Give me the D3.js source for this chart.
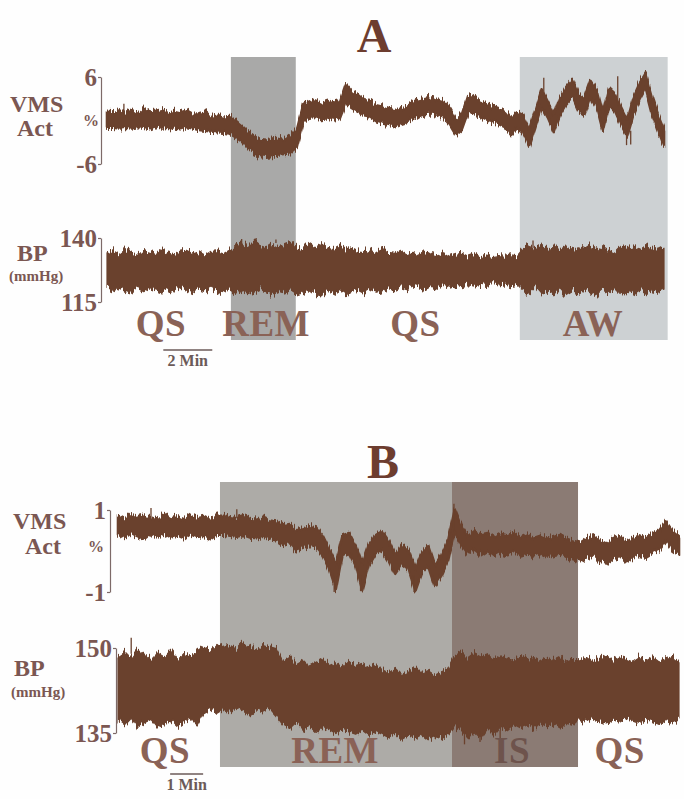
<!DOCTYPE html>
<html><head><meta charset="utf-8">
<script src="https://cdn.jsdelivr.net/npm/d3@7/dist/d3.min.js"></script>
<style>
body{margin:0;background:#fff}
svg{display:block}
text{font-family:"Liberation Serif","Times New Roman",serif;font-weight:bold}
</style>
</head><body>
<svg id="chart" width="684" height="799"></svg>
<script>
// ---------- DATA ----------
const dtA = 0.25;   // minutes between samples, panel A
const dtB = 0.2;    // minutes between samples, panel B

// Panel A: VMS activity (%) band, upper and lower envelope
const vmsA_hi = [1.2,1.1,1.4,1.0,1.5,0.9,1.6,1.1,1.2,1.4,
  1.0,1.3,1.1,1.4,0.9,1.0,1.2,0.6,0.8,0.5,
  0.6,0.0,-0.7,-1.5,-2.1,-2.7,-2.8,-2.5,-2.4,-2.6,
  -2.0,-1.2,2.1,2.6,2.9,2.4,2.7,2.3,2.5,5.0,
  4.0,3.5,2.8,2.7,2.1,1.9,1.6,1.4,1.8,2.0,
  2.4,2.9,3.1,3.3,2.9,2.6,1.7,0.2,0.9,3.5,
  3.1,2.7,2.2,2.0,1.7,1.3,0.3,1.0,0.6,-1.2,
  1.5,4.3,2.6,0.7,3.2,4.6,5.6,3.7,3.2,5.6,
  4.3,1.0,4.5,3.7,1.8,0.1,3.2,5.1,6.5,3.4,
  0.9,-1.2];
const vmsA_lo = [-1.0,-1.0,-1.1,-1.0,-1.1,-0.9,-1.0,-1.2,-0.9,-1.1,
  -1.0,-1.1,-1.2,-0.9,-1.1,-1.3,-1.4,-1.5,-1.6,-1.7,
  -1.8,-2.3,-2.9,-3.8,-4.5,-4.9,-5.0,-4.9,-4.7,-4.6,
  -4.5,-3.8,-0.4,0.4,0.5,0.2,0.3,0.0,0.2,2.4,
  1.7,1.2,0.6,0.4,-0.1,-0.4,-0.6,-0.8,-0.5,-0.2,
  0.1,0.6,0.9,1.0,0.8,0.4,-0.6,-2.0,-1.3,1.1,
  0.9,0.5,0.0,-0.2,-0.5,-0.9,-2.0,-1.2,-1.7,-3.5,
  -0.8,1.9,0.3,-1.6,0.8,2.3,3.3,1.4,0.8,3.3,
  1.9,-1.4,2.2,1.3,-0.6,-2.2,0.8,2.7,4.3,1.0,
  -1.4,-3.6];
// thin spikes: [minute, from, to]
const vmsA_spikes = [[0.69,1.0,2.3],[17.84,3.0,5.9],[20.86,2.5,6.1],[21.22,-1.5,-3.4],[21.39,-1.4,-3.3]];

// Panel A: blood pressure (mmHg) band
const bpA_hi = [134.2,135.0,133.6,135.4,134.0,133.2,135.1,134.4,133.5,135.3,
  134.1,133.4,134.9,135.2,133.7,134.6,133.3,134.8,135.0,134.2,135.6,
  137.2,138.1,136.5,138.8,137.0,136.2,137.9,136.6,137.4,138.3,136.1,
  135.4,137.5,136.2,137.8,136.0,135.5,136.8,135.2,136.3,135.0,134.6,135.7,134.3,135.5,
  134.0,133.6,134.8,133.4,134.4,133.2,134.9,133.5,133.0,134.2,132.8,133.6,134.0,132.9,133.8,132.6,133.3,132.7,133.1,132.8,133.4,133.0,
  135.8,137.0,136.2,137.6,135.4,136.9,135.8,137.3,136.0,135.2,137.1,136.3,134.8,136.6,135.5,134.4,136.8,135.9,136.5,135.3,137.0,136.1,135.6,136.8];
const bpA_lo = [120.3,119.2,120.8,119.5,118.8,120.4,119.0,120.6,119.7,118.9,
  120.2,119.3,120.9,119.6,118.7,120.1,119.4,120.5,119.1,118.6,119.8,
  118.4,119.6,117.9,118.8,119.9,118.2,117.6,119.1,118.5,119.4,117.8,
  118.6,119.8,118.1,117.4,119.2,118.0,119.5,117.9,118.7,119.6,118.3,119.9,118.8,119.4,
  120.6,119.8,121.0,120.2,121.3,120.5,119.9,121.1,120.4,121.5,120.8,121.6,121.0,121.8,121.2,122.0,121.5,122.3,121.7,122.1,121.4,121.9,
  119.5,118.4,120.6,117.8,119.3,118.6,120.2,117.5,119.0,118.2,120.1,118.9,117.6,119.7,118.3,120.4,117.9,119.2,118.5,120.0,118.1,119.4,118.8,119.6];
const bpA_spikes = [[5.5,137,139.6],[17.4,136,139.0],[6.9,138,139.4]];

// Panel B: VMS activity (%) band
const vmsB_hi = [0.86,0.78,0.92,0.80,0.84,0.82,0.76,0.90,0.79,0.85,
  0.77,0.88,0.80,0.83,0.75,0.88,
  0.88,0.82,0.80,0.85,0.78,0.76,0.81,0.74,0.72,
  0.62,0.66,0.50,0.55,0.60,0.58,0.38,0.05,-0.30,0.38,0.44,0.14,-0.32,0.15,0.38,0.48,0.25,-0.10,0.14,0.02,-0.44,-0.03,0.14,-0.34,-0.10,0.26,
  1.02,0.62,0.36,0.48,0.40,0.44,0.34,0.42,0.38,0.45,0.33,0.40,0.32,0.37,0.30,0.34,0.39,0.29,0.25,0.20,0.30,0.38,0.26,0.18,0.31,0.36,0.23,0.30,0.38,0.33,0.42,0.50,0.72,0.50,0.36];
const vmsB_lo = [0.40,0.32,0.44,0.36,0.30,0.42,0.35,0.43,0.33,0.38,
  0.31,0.41,0.34,0.37,0.29,0.40,
  0.40,0.37,0.35,0.39,0.33,0.31,0.35,0.29,0.26,
  0.15,0.20,0.02,0.08,0.12,0.10,-0.10,-0.45,-0.95,-0.10,-0.02,-0.35,-0.98,-0.36,-0.08,0.02,-0.24,-0.58,-0.34,-0.46,-0.98,-0.52,-0.35,-0.85,-0.60,-0.24,
  0.45,0.14,-0.08,0.04,-0.10,0.00,-0.12,-0.03,-0.08,0.01,-0.11,-0.06,-0.13,-0.07,-0.16,-0.10,-0.06,-0.15,-0.20,-0.25,-0.18,-0.10,-0.24,-0.28,-0.17,-0.12,-0.25,-0.16,-0.09,-0.14,-0.04,0.04,0.26,0.03,-0.08];
const vmsB_spikes = [[1.0,0.8,1.05],[3.6,0.8,1.02],[6.55,-0.6,-1.0],[7.35,-0.6,-0.98],[8.97,-0.6,-1.0],[10.18,0.5,1.15]];

// Panel B: blood pressure (mmHg) band
const bpB_hi = [148.6,149.4,148.2,149.8,148.9,147.9,149.1,148.4,149.6,148.0,149.2,148.7,149.5,
  150.3,149.6,150.8,149.9,150.5,149.7,150.9,150.1,149.8,150.6,150.2,149.9,
  147.6,148.3,147.2,147.9,146.8,147.5,148.1,146.9,147.4,146.6,147.8,146.9,147.3,146.5,147.1,
  146.2,145.6,146.4,145.3,145.9,146.6,145.5,146.0,145.2,145.8,146.3,
  148.6,149.3,148.1,149.0,148.4,148.8,147.9,148.6,148.2,147.7,148.5,147.9,148.3,147.6,148.2,147.8,148.4,147.5,148.0,
  147.9,148.5,147.6,148.2,148.7,147.8,148.4,148.0,147.5,148.3,147.9,148.6,147.7,148.1,148.5,147.6];
const bpB_lo = [137.1,136.3,137.6,136.0,136.8,137.4,135.9,136.6,137.2,136.1,136.9,137.5,136.4,
  138.6,139.2,138.3,139.0,138.5,139.4,138.8,138.2,139.1,138.7,139.3,138.0,
  136.4,135.8,136.9,135.5,136.2,135.1,136.0,135.6,134.9,135.7,135.2,134.8,135.5,134.6,135.3,
  134.8,134.2,135.0,133.9,134.5,134.1,134.7,133.8,134.4,134.0,134.6,
  136.2,135.5,134.1,135.2,134.0,135.8,134.6,136.0,135.4,136.5,135.9,136.4,135.7,136.8,136.1,136.6,135.9,136.7,136.3,
  137.4,136.8,137.5,137.0,136.6,137.3,136.9,137.6,137.1,136.7,137.4,137.0,136.5,137.2,136.8,137.3];
const bpB_spikes = [[0.4,149,151.8],[10.5,135.5,133.0],[10.97,135.5,133.4],[11.58,135.5,134.0]];

// sleep-state periods [state, start min, end min] and label positions [state, min]
const periodsA = [["REM",5.06,7.71],["AW",16.86,22.9]];
const stagesA  = [["QS",2.2],["REM",6.5],["QS",12.6],["AW",19.85]];
const periodsB = [["REM",3.09,10.12],["IS",10.12,13.94]];
const stagesB  = [["QS",1.42],["REM",6.58],["IS",11.94],["QS",15.2]];

// axis tick labels
const vmsTicksA = [-6,6], bpTicksA = [115,140];
const vmsTicksB = [-1,1], bpTicksB = [135,150];
// time scale bars [start min, length min, label]
const scaleBarA = [2.3,2,"2 Min"];
const scaleBarB = [1.58,1,"1 Min"];

// ---------- STYLE ----------
const C = {trace:"#6a412d", stage:"#8a6256", axisText:"#7b5752", title:"#6d3d2f", axis:"#7d6a68", isText:"#6e534c"};
const periodFillA = {REM:"#a9a9a8", AW:"#cdd1d3"};
const periodFillB = {REM:"#adaba7", IS:"#8b7b74"};

const svg = d3.select("#chart");
svg.append("rect").attr("width",684).attr("height",799).attr("fill","#fefefe");

// texture filter: roughens the recorded-trace edges (visual style only)
const defs = svg.append("defs");
function roughFilter(id, fx, scale){
  const f = defs.append("filter").attr("id",id).attr("filterUnits","userSpaceOnUse")
    .attr("x",0).attr("y",0).attr("width",684).attr("height",799)
    .attr("color-interpolation-filters","sRGB");
  f.append("feTurbulence").attr("type","fractalNoise").attr("baseFrequency",`${fx} 0.015`)
    .attr("numOctaves",2).attr("seed",4).attr("result","t");
  f.append("feColorMatrix").attr("in","t").attr("type","matrix")
    .attr("values","0 0 0 0 0.5  0 1 0 0 0  0 0 0 0 0  0 0 0 0 1").attr("result","m");
  f.append("feDisplacementMap").attr("in","SourceGraphic").attr("in2","m")
    .attr("scale",scale).attr("xChannelSelector","R").attr("yChannelSelector","G");
}
roughFilter("roughV",0.7,12);
roughFilter("roughB",0.55,14);

function drawPanel(p){
  const n = p.vmsHi.length;
  const x = d3.scaleLinear().domain([0,(n-1)*p.dt]).range(p.xRange);
  const yV = d3.scaleLinear().domain([p.vmsTicks[0],p.vmsTicks[1]]).range(p.vmsY);
  const yB = d3.scaleLinear().domain([p.bpTicks[0],p.bpTicks[1]]).range(p.bpY);

  // shaded periods
  svg.append("g").selectAll("rect").data(p.periods).join("rect")
    .attr("x",d=>x(d[1])).attr("width",d=>x(d[2])-x(d[1]))
    .attr("y",p.shadeY[0]).attr("height",p.shadeY[1]-p.shadeY[0])
    .attr("fill",d=>p.fills[d[0]]);

  // title
  svg.append("text").attr("x",p.title[1]).attr("y",p.title[2])
    .attr("text-anchor","middle").attr("font-size",48).attr("fill",C.title).text(p.title[0]);

  // trace bands
  function band(hi,lo,y,filt,sw){
    const data = hi.map((h,i)=>({t:i*p.dt,h:h,l:lo[i]}));
    const area = d3.area().x(d=>x(d.t)).y0(d=>y(d.l)).y1(d=>y(d.h));
    svg.append("g").attr("filter",`url(#${filt})`).append("path").datum(data).attr("d",area)
      .attr("fill",C.trace).attr("stroke",C.trace).attr("stroke-width",sw).attr("stroke-linejoin","round");
  }
  band(p.vmsHi,p.vmsLo,yV,"roughV",2.6);
  band(p.bpHi,p.bpLo,yB,"roughB",1.2);
  function spikes(list,y){
    svg.append("g").selectAll("line").data(list).join("line")
      .attr("x1",d=>x(d[0])).attr("x2",d=>x(d[0]))
      .attr("y1",d=>y(d[1])).attr("y2",d=>y(d[2]))
      .attr("stroke",C.trace).attr("stroke-width",1.3);
  }
  spikes(p.vmsSpikes,yV);
  spikes(p.bpSpikes,yB);

  // axes (bracket style)
  function axis(y,ticks,ax,fs){
    const g = svg.append("g").attr("transform",`translate(${ax},0)`)
      .call(d3.axisLeft(y).tickValues(ticks).tickSizeInner(3).tickSizeOuter(0).tickPadding(1).tickFormat(d=>String(d)));
    g.select(".domain").attr("stroke",C.axis).attr("stroke-width",1.2);
    g.selectAll(".tick line").attr("stroke",C.axis).attr("stroke-width",1.2);
    g.selectAll(".tick text").attr("font-size",fs).attr("fill",C.axisText)
      .attr("font-family","'Liberation Serif',serif").attr("font-weight","bold");
  }
  axis(yV,p.vmsTicks,p.vmsAxisX,p.tickFs);
  axis(yB,p.bpTicks,p.bpAxisX,p.tickFs);

  // axis names
  p.names.forEach(d=>svg.append("text").attr("x",d[1]).attr("y",d[2])
    .attr("font-size",d[3]).attr("fill",C.axisText).text(d[0]));

  // stage labels
  svg.append("g").selectAll("text").data(p.stages).join("text")
    .attr("x",d=>x(d[1])).attr("y",p.stageY).attr("text-anchor","middle")
    .attr("font-size",37).attr("letter-spacing",0.5)
    .attr("fill",d=>d[0]==="IS"?C.isText:C.stage).text(d=>d[0]);

  // scale bar
  const sb = p.scaleBar;
  svg.append("line").attr("x1",x(sb[0])).attr("x2",x(sb[0]+sb[1]))
    .attr("y1",p.sbY).attr("y2",p.sbY).attr("stroke","#6b5a58").attr("stroke-width",1.5);
  svg.append("text").attr("x",(x(sb[0])+x(sb[0]+sb[1]))/2).attr("y",p.sbY+16)
    .attr("text-anchor","middle").attr("font-size",16).attr("fill","#6b5a58").text(sb[2]);
}

drawPanel({
  dt:dtA, xRange:[107,664], vmsY:[164,77], bpY:[302,238],
  vmsHi:vmsA_hi, vmsLo:vmsA_lo, bpHi:bpA_hi, bpLo:bpA_lo,
  vmsSpikes:vmsA_spikes, bpSpikes:bpA_spikes,
  vmsTicks:vmsTicksA, bpTicks:bpTicksA, vmsAxisX:101, bpAxisX:101, tickFs:25,
  periods:periodsA, fills:periodFillA, shadeY:[57,340],
  stages:stagesA, stageY:336, title:["A",374,52],
  names:[["VMS",10,112,24],["Act",17,136,24],["%",83,126,16],["BP",17,261,24],["(mmHg)",9,281,15]],
  scaleBar:scaleBarA, sbY:350
});
drawPanel({
  dt:dtB, xRange:[118,679], vmsY:[592,510], bpY:[733,648],
  vmsHi:vmsB_hi, vmsLo:vmsB_lo, bpHi:bpB_hi, bpLo:bpB_lo,
  vmsSpikes:vmsB_spikes, bpSpikes:bpB_spikes,
  vmsTicks:vmsTicksB, bpTicks:bpTicksB, vmsAxisX:110, bpAxisX:116, tickFs:25,
  periods:periodsB, fills:periodFillB, shadeY:[482,767],
  stages:stagesB, stageY:763, title:["B",383,478],
  names:[["VMS",13,529,24],["Act",25,554,24],["%",88,552,16],["BP",14,676,24],["(mmHg)",11,697,15]],
  scaleBar:scaleBarB, sbY:774
});
</script>
</body></html>
